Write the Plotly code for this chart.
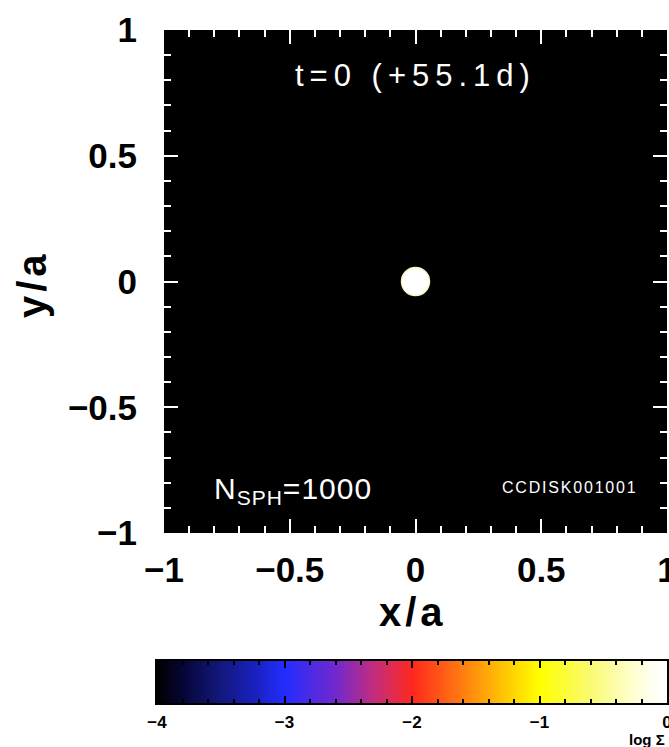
import numpy as np
import plotly.graph_objects as go

# ---- data -------------------------------------------------------------
# SPH particle distribution at t=0: a compact disc of gas at the origin
disk_x = [0.0]
disk_y = [0.0]
disk_logsigma = [0.0]

# colour table for log Sigma (value, rgb)
cmap_levels = [-4.0, -3.8, -3.5, -3.2, -3.0, -2.6, -2.3, -2.0, -1.7, -1.5, -1.2, -1.0, -0.6, -0.3, -0.1, 0.0]
cmap_colors = [
    "rgb(0,0,0)", "rgb(6,6,55)", "rgb(18,24,125)", "rgb(26,34,200)", "rgb(35,45,255)",
    "rgb(115,40,205)", "rgb(195,45,125)", "rgb(255,40,30)", "rgb(255,105,20)",
    "rgb(255,150,10)", "rgb(255,215,0)", "rgb(255,255,0)", "rgb(250,250,115)",
    "rgb(255,255,200)", "rgb(255,255,245)", "rgb(255,255,255)",
]
cbar_min, cbar_max = -4.0, 0.0
cbar_ticks = [-4, -3, -2, -1, 0]

axis_ticks = [-1, -0.5, 0, 0.5, 1]

time_label = "t=0 (+55.1d)"
nsph_label = "N<sub>SPH</sub>=1000"
run_label = "CCDISK001001"

colorscale = [[(v - cbar_min) / (cbar_max - cbar_min), c] for v, c in zip(cmap_levels, cmap_colors)]

# ---- figure ------------------------------------------------------------
W, H = 669, 747
ML, MR, MT, MB = 157, 2, 30, 44
PW, PH = W - ML - MR, H - MT - MB


def px_x(p):
    return (p - ML) / PW


def px_y(p):
    return (H - MB - p) / PH


fig = go.Figure()

fig.add_trace(go.Scatter(
    x=disk_x, y=disk_y, mode="markers",
    marker=dict(size=28, color=disk_logsigma, colorscale=colorscale,
                cmin=cbar_min, cmax=cbar_max,
                line=dict(color="rgb(250,245,190)", width=1.5)),
    xaxis="x", yaxis="y", showlegend=False, hoverinfo="skip",
))

# colour bar drawn as a heatmap on its own axes
bar_levels = np.linspace(cbar_min, cbar_max, 81)
fig.add_trace(go.Heatmap(
    x=bar_levels, y=[0], z=[bar_levels], colorscale=colorscale,
    zmin=cbar_min, zmax=cbar_max, showscale=False, zsmooth="best",
    xaxis="x2", yaxis="y2", hoverinfo="skip",
))

tick_font = dict(family="Liberation Sans", size=35, color="black", weight="bold")

common = dict(
    tickvals=axis_ticks, ticks="inside", ticklen=14, tickwidth=2, tickcolor="white",
    mirror="ticks", showline=False, showgrid=False, zeroline=False,
    tickfont=tick_font, range=[-1, 1], ticklabeloverflow="allow", automargin=False,
    minor=dict(dtick=0.1, ticks="inside", ticklen=7, tickwidth=2, tickcolor="white", showgrid=False),
)

fig.update_layout(
    width=W, height=H,
    margin=dict(l=ML, r=MR, t=MT, b=MB, pad=0, autoexpand=False),
    paper_bgcolor="white", plot_bgcolor="black",
    xaxis=dict(domain=[px_x(164), 1.0], anchor="y", ticklabelstandoff=13, **common),
    yaxis=dict(domain=[px_y(533), 1.0], anchor="x", ticklabelstandoff=26, **common),
    xaxis2=dict(domain=[0, 1], anchor="y2", range=[cbar_min, cbar_max], automargin=False,
                tickvals=cbar_ticks, ticks="inside", ticklen=7, tickwidth=2, tickcolor="black",
                showline=True, linecolor="black", linewidth=2, mirror="ticks",
                showgrid=False, zeroline=False, ticklabelstandoff=3, ticklabeloverflow="allow",
                tickfont=dict(family="Liberation Sans", size=17, color="black", weight="bold"),
                minor=dict(dtick=0.2, ticks="inside", ticklen=4, tickwidth=2, tickcolor="black", showgrid=False)),
    yaxis2=dict(domain=[0, px_y(661)], anchor="x2", range=[-0.5, 0.5], automargin=False,
                showticklabels=False, ticks="", showline=True, linecolor="black", linewidth=2,
                mirror=True, showgrid=False, zeroline=False),
    showlegend=False,
)

label_font = dict(family="Liberation Sans", color="white")
fig.add_annotation(
    text=f'<span style="letter-spacing:6px">{time_label}</span>',
    xref="x", yref="y", x=0.0, y=0.82, showarrow=False,
    font=dict(size=31, **label_font), xanchor="center", yanchor="middle",
)
fig.add_annotation(
    text=f'<span style="letter-spacing:1px">{nsph_label}</span>',
    xref="x", yref="y", x=-0.81, y=-0.83, showarrow=False,
    font=dict(size=30, **label_font), xanchor="left", yanchor="middle",
)
fig.add_annotation(
    text=f'<span style="letter-spacing:1.8px">{run_label}</span>',
    xref="x", yref="y", x=0.89, y=-0.82, showarrow=False,
    font=dict(size=16, **label_font), xanchor="right", yanchor="middle",
)

title_font = dict(family="Liberation Sans", size=40, color="black", weight="bold")
fig.add_annotation(text='<span style="letter-spacing:4px">y/a</span>', xref="paper", yref="paper",
                   x=px_x(32), y=px_y(284), textangle=-90, showarrow=False, font=title_font,
                   xanchor="center", yanchor="middle")
fig.add_annotation(text='<span style="letter-spacing:4px">x/a</span>', xref="paper", yref="paper",
                   x=px_x(413), y=px_y(612), showarrow=False, font=title_font,
                   xanchor="center", yanchor="middle")
fig.add_annotation(text="log Σ", xref="paper", yref="paper", x=px_x(667), y=px_y(739),
                   showarrow=False, font=dict(family="Liberation Sans", size=15, color="black", weight="bold"),
                   xanchor="right", yanchor="middle")

fig.write_html("out.html")
